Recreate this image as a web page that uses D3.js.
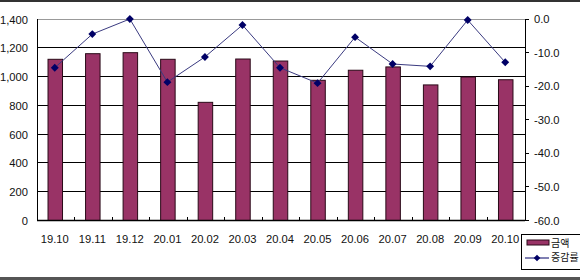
<!DOCTYPE html>
<html><head><meta charset="utf-8">
<script src="https://cdn.jsdelivr.net/npm/d3@7"></script>
<style>html,body{margin:0;padding:0;background:#fff;}svg{display:block;}</style>
</head><body>
<svg id="c" width="580" height="280"></svg>
<script>
const categories = ["19.10","19.11","19.12","20.01","20.02","20.03","20.04","20.05","20.06","20.07","20.08","20.09","20.10"];
const amount = [1120,1159,1166,1120,821,1122,1108,974,1044,1067,942,997,978];
const change = [-14.5,-4.5,0.0,-18.8,-11.3,-1.8,-14.5,-19.1,-5.4,-13.4,-14.1,-0.3,-12.9];
const leftTicks = [0,200,400,600,800,1000,1200,1400];
const rightTicks = [0,-10,-20,-30,-40,-50,-60];
const legendLabels = ["금액","증감률"];

const svg = d3.select("#c");
const L = 37, R = 525, T = 19, B = 220.5;
const font = "'Liberation Sans', Arial, sans-serif";
const fs = 11.2;

// frame lines
svg.append("rect").attr("x",0).attr("y",0).attr("width",580).attr("height",2).attr("fill","#333");
svg.append("rect").attr("x",0).attr("y",277).attr("width",580).attr("height",3).attr("fill","#555");

const x = d3.scaleBand().domain(categories).range([L,R]).paddingInner(0).paddingOuter(0);
const yL = d3.scaleLinear().domain([0,1400]).range([B,T]);
const yR = d3.scaleLinear().domain([-60,0]).range([B,T]);

// gridlines
svg.append("g").selectAll("line").data(leftTicks.filter(d=>d>0)).join("line")
  .attr("x1",L).attr("x2",R).attr("y1",d=>yL(d)).attr("y2",d=>yL(d))
  .attr("stroke",d=>d===1400?"#999":"#000").attr("stroke-width",1).attr("shape-rendering","crispEdges");

// bars
const bw = 14.5;
svg.append("g").selectAll("rect").data(amount).join("rect")
  .attr("x",(d,i)=>x(categories[i])+x.bandwidth()/2-bw/2-0.5)
  .attr("y",d=>yL(d)).attr("width",bw).attr("height",d=>B-yL(d))
  .attr("fill","#993366").attr("stroke","#2a0a18").attr("stroke-width",1);

// left axis line
svg.append("line").attr("x1",L).attr("x2",L).attr("y1",T).attr("y2",B).attr("stroke","#000").attr("shape-rendering","crispEdges");
// bottom axis
svg.append("line").attr("x1",L).attr("x2",R).attr("y1",B).attr("y2",B).attr("stroke","#000").attr("stroke-width",1.3);
// x ticks between categories (inward)
svg.append("g").selectAll("line").data(categories.slice(1)).join("line")
  .attr("x1",d=>x(d)).attr("x2",d=>x(d)).attr("y1",B).attr("y2",B-4)
  .attr("stroke","#000").attr("shape-rendering","crispEdges");
// right axis
svg.append("line").attr("x1",R).attr("x2",R).attr("y1",T).attr("y2",B).attr("stroke","#000").attr("shape-rendering","crispEdges");
svg.append("g").selectAll("line").data(rightTicks).join("line")
  .attr("x1",R).attr("x2",R+4).attr("y1",d=>yR(d)).attr("y2",d=>yR(d))
  .attr("stroke","#000").attr("shape-rendering","crispEdges");

// left tick labels
svg.append("g").selectAll("text").data(leftTicks).join("text")
  .attr("x",28).attr("y",d=>yL(d)+4.5).attr("text-anchor","end")
  .attr("font-family",font).attr("font-size",fs).attr("fill","#111")
  .text(d=>d3.format(",")(d));
// right tick labels
svg.append("g").selectAll("text").data(rightTicks).join("text")
  .attr("x",534).attr("y",d=>yR(d)+4).attr("text-anchor","start")
  .attr("font-family",font).attr("font-size",fs).attr("fill","#111")
  .text(d=>d3.format(".1f")(d).replace("−","-"));
// x labels
svg.append("g").selectAll("text").data(categories).join("text")
  .attr("x",d=>x(d)+x.bandwidth()/2-1).attr("y",243).attr("text-anchor","middle")
  .attr("font-family",font).attr("font-size",fs).attr("fill","#111")
  .text(d=>d);

// line
const line = d3.line().x((d,i)=>x(categories[i])+x.bandwidth()/2-1).y(d=>yR(d));
svg.append("path").datum(change).attr("d",line).attr("fill","none").attr("stroke","#3a3a80").attr("stroke-width",1);
const sym = d3.symbol().type(d3.symbolDiamond2).size(40);
svg.append("g").selectAll("path").data(change).join("path")
  .attr("transform",(d,i)=>`translate(${x(categories[i])+x.bandwidth()/2-1},${yR(d)})`)
  .attr("d",sym).attr("fill","#000066");

// legend
const lg = svg.append("g");
lg.append("rect").attr("x",521.5).attr("y",234.5).attr("width",62).attr("height",35).attr("fill","#fff").attr("stroke","#000");
lg.append("rect").attr("x",527).attr("y",240).attr("width",22).attr("height",5).attr("fill","#993366").attr("stroke","#2a0a18");
lg.append("line").attr("x1",525).attr("x2",549).attr("y1",258).attr("y2",258).attr("stroke","#000066");
lg.append("path").attr("transform","translate(537,258)").attr("d",d3.symbol().type(d3.symbolDiamond2).size(28)).attr("fill","#000066");
lg.selectAll("text").data(legendLabels).join("text")
  .attr("x",551).attr("y",(d,i)=>247+i*14)
  .attr("font-family","'Noto Sans CJK KR', sans-serif").attr("font-size",10).attr("fill","#111")
  .text(d=>d);
</script>
</body></html>
